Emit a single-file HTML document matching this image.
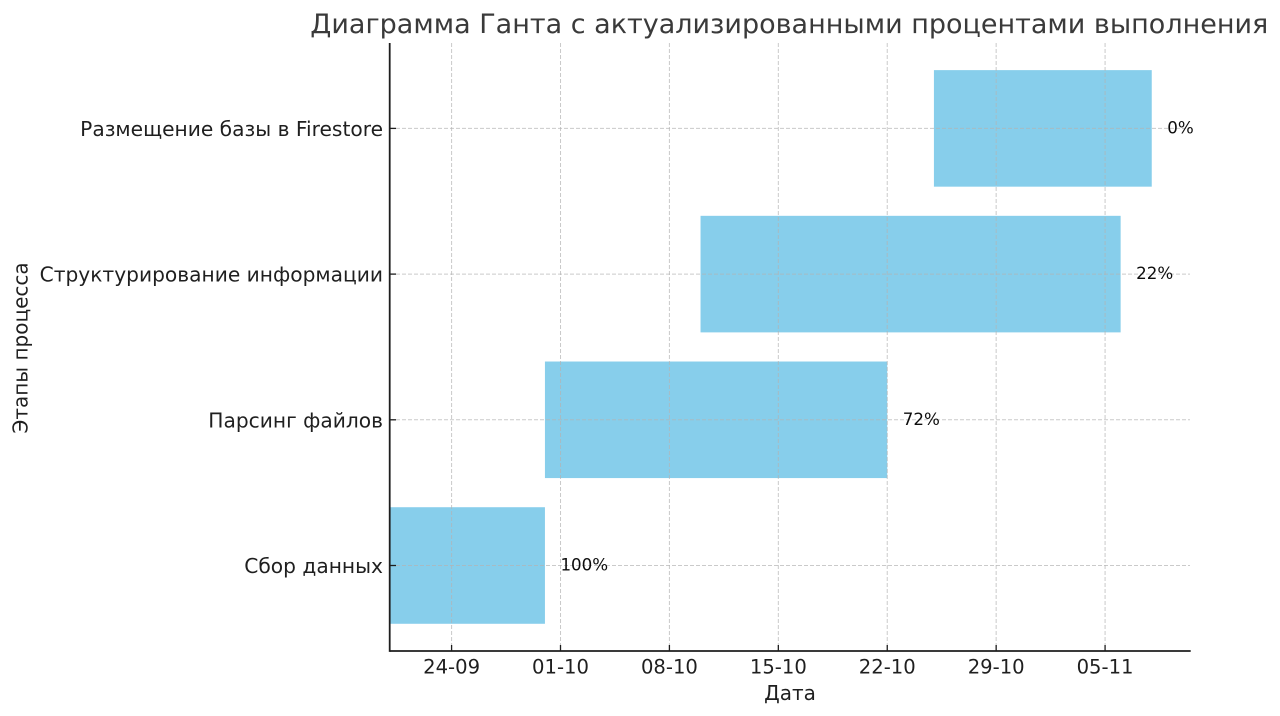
<!DOCTYPE html>
<html lang="ru">
<head>
<meta charset="utf-8">
<title>Диаграмма Ганта</title>
<style>
  html, body { margin: 0; padding: 0; background: #fff; }
  svg { display: block; filter: blur(0.35px); }
  text { font-family: "DejaVu Sans", "Liberation Sans", sans-serif; }
</style>
</head>
<body>
<svg id="chart" width="1280" height="716" viewBox="0 0 1280 716" xmlns="http://www.w3.org/2000/svg">
  <rect width="1280" height="716" fill="#fff"/>
  <g id="bars"></g>
  <g id="grid"></g>
  <g id="axes"></g>
  <g id="labels"></g>
  <text x="789.3" y="33" text-anchor="middle" font-size="27" fill="#3a3a3a">Диаграмма Ганта с актуализированными процентами выполнения</text>
  <text x="790" y="700" text-anchor="middle" font-size="20" fill="#1f1f1f">Дата</text>
  <text transform="translate(27.5 348) rotate(-90)" text-anchor="middle" font-size="20" fill="#1f1f1f">Этапы процесса</text>
</svg>
<script>
const tasks = ['Сбор данных', 'Парсинг файлов', 'Структурирование информации', 'Размещение базы в Firestore'];
const startDates = ['2024-09-20', '2024-09-30', '2024-10-10', '2024-10-25'];
const endDates = ['2024-09-30', '2024-10-22', '2024-11-06', '2024-11-08'];
const percentDone = [100, 72, 22, 0];
const tickDates = ['2024-09-24', '2024-10-01', '2024-10-08', '2024-10-15', '2024-10-22', '2024-10-29', '2024-11-05'];
const xDomain = ['2024-09-20T01:00:00Z', '2024-11-10T11:00:00Z'];

const PLOT = { left: 390, right: 1190, top: 43, bottom: 651 };
const NS = 'http://www.w3.org/2000/svg';
const toTime = d => new Date(d).getTime();
const xScale = d => PLOT.left + (toTime(d) - toTime(xDomain[0])) / (toTime(xDomain[1]) - toTime(xDomain[0])) * (PLOT.right - PLOT.left);
const yBand = 145.7;
const yScale = i => 565.5 - i * yBand;
const barHeight = yBand * 0.8;

function make(tag, attrs, parent, content) {
  const el = document.createElementNS(NS, tag);
  for (const k in attrs) el.setAttribute(k, attrs[k]);
  if (content !== undefined) el.textContent = content;
  document.getElementById(parent).appendChild(el);
  return el;
}

function dayMonth(d) {
  const p = d.split('-');
  return p[2] + '-' + p[1];
}

tasks.forEach((name, i) => {
  const x0 = xScale(startDates[i]);
  const x1 = xScale(endDates[i]);
  const y = yScale(i);

  const bar = make('rect', { x: x0, y: y - barHeight / 2, width: x1 - x0, height: barHeight, fill: '#87ceeb' }, 'bars');
  
  

  const grid = make('line', { x1: PLOT.left, x2: PLOT.right, y1: y, y2: y, stroke: '#b4b4b4', 'stroke-opacity': 0.7, 'stroke-width': 1, 'stroke-dasharray': '4 2' }, 'grid');
  
  

  const tick = make('line', { x1: PLOT.left, x2: PLOT.left + 6, y1: y, y2: y, stroke: '#1e1e1e', 'stroke-width': 1.3 }, 'axes');
  
  

  const label = make('text', { x: 383, y: y + 7.5, 'text-anchor': 'end', 'font-size': 20.2, fill: '#1f1f1f' }, 'labels', name);
  
  

  const pct = make('text', { x: x1 + 15.5, y: y + 5, 'font-size': 16.7, fill: '#0d0d0d' }, 'labels', percentDone[i] + '%');
  
  
});

tickDates.forEach(d => {
  const x = xScale(d);

  const grid = make('line', { x1: x, x2: x, y1: PLOT.top, y2: PLOT.bottom, stroke: '#b4b4b4', 'stroke-opacity': 0.7, 'stroke-width': 1, 'stroke-dasharray': '4 2' }, 'grid');
  
  

  const tick = make('line', { x1: x, x2: x, y1: PLOT.bottom, y2: PLOT.bottom - 6, stroke: '#1e1e1e', 'stroke-width': 1.3 }, 'axes');
  
  

  const label = make('text', { x: x, y: 673.5, 'text-anchor': 'middle', 'font-size': 19.6, fill: '#1f1f1f' }, 'labels', dayMonth(d));
  
  
});

const spineLeft = make('line', { x1: PLOT.left - 0.3, x2: PLOT.left - 0.3, y1: PLOT.top, y2: PLOT.bottom + 0.9, stroke: '#1e1e1e', 'stroke-width': 1.8 }, 'axes');



const spineBottom = make('line', { x1: PLOT.left, x2: PLOT.right + 0.7, y1: PLOT.bottom, y2: PLOT.bottom, stroke: '#1e1e1e', 'stroke-width': 1.8 }, 'axes');


</script>
</body>
</html>
